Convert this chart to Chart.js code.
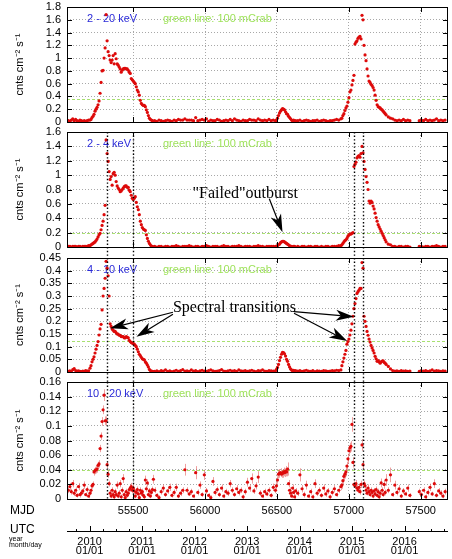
<!DOCTYPE html>
<html>
<head>
<meta charset="utf-8">
<script src="https://cdn.jsdelivr.net/npm/chart.js@4.4.1/dist/chart.umd.min.js"></script>
<style>
  body { margin: 0; background: #fff; width: 452px; height: 559px; position: relative; overflow: hidden; }
  canvas { position: absolute; left: 0; }
</style>
</head>
<body>
<script>
// MAXI light curve, one time grid shared by the four energy bands
var mjd = [
  // before the 2010 outburst
  55050,55060,55070,55080,55090,55100,55110,55120,55130,55140,55150,55160,55170,55180,55190,
  // 2010 outburst
  55200,55207,55214,55221,55228,55235,55242,55249,55256,55263,55270,55277,55284,55291,55298,55305,
  55312,55319,55326,55333,55340,55347,55354,55361,55368,55375,55382,55389,55396,55403,55410,55417,
  55424,55431,55438,55445,55452,55459,55466,55473,55480,55487,55494,55501,55508,55515,55522,55529,
  55536,55543,55550,55557,55564,55571,55578,55585,55592,55599,55606,55613,55620,55627,55634,55641,
  // quiescence
  55650,55665,55680,55695,55710,55725,55740,55755,55770,55785,55800,55815,55830,55845,55860,55875,
  55890,55905,55920,55935,55950,55965,55980,55995,56010,56025,56040,56055,56070,56085,56100,56115,
  56130,56145,56160,56175,56190,56205,56220,56235,56250,56265,56280,56295,56310,56325,56340,56355,
  56370,56385,56400,56415,56430,56445,56460,56475,
  // "failed" outburst
  56490,56497,56504,56511,56518,56525,56532,56539,56546,56553,56560,56567,56574,56581,56588,56595,
  56602,56609,56616,56623,56630,
  // quiescence
  56645,56660,56675,56690,56705,56720,56735,56750,56765,56780,56795,56810,56825,56840,56855,56870,
  56885,56900,56915,56930,56945,
  // 2014-2015 outburst
  56952,56959,56966,56973,56980,56987,56994,57001,57008,57015,57022,57029,57036,57043,57050,57057,
  57064,57071,57078,57085,57092,57099,57106,57113,57120,57127,57134,57141,57148,57155,57162,57169,
  57176,57183,57190,57197,57204,57211,57218,57225,57232,57239,57246,57253,57260,
  // decay and quiescence
  57275,57290,57305,57320,57335,57350,57365,57380,57395,57410,57425,
  57490,57505,57520,57535,57550,57565,57580,57595,57610,57625,57640,57655,57670
];

var rate2to20 = [
  0.02,0.01,0.03,0.05,0.02,0.04,0.02,0.01,0.03,0.02,0.01,0.02,0.01,0.02,0.03,
  0.03,0.04,0.07,0.09,0.12,0.17,0.20,0.23,0.27,0.33,0.45,0.62,0.80,0.81,1.00,1.16,
  1.68,1.27,1.10,1.04,0.97,0.93,0.97,1.04,0.91,1.07,0.99,0.91,0.89,0.86,0.83,0.78,
  0.81,0.83,0.84,0.84,0.83,0.83,0.81,0.78,0.76,0.68,0.66,0.64,0.62,0.60,0.55,0.50,
  0.47,0.42,0.34,0.29,0.27,0.26,0.26,0.24,0.19,0.15,0.10,0.06,0.04,0.03,0.02,0.01,
  0.02,0.01,0.03,0.02,0.01,0.02,0.03,0.02,0.01,0.03,0.02,0.04,0.03,0.03,0.05,0.03,
  0.03,0.03,0.02,0.07,0.02,0.03,0.04,0.03,0.05,0.01,0.03,0.02,0.02,0.04,0.03,0.01,
  0.02,0.03,0.02,0.04,0.02,0.05,0.03,0.02,0.01,0.03,0.02,0.02,0.04,0.03,0.03,0.02,
  0.05,0.03,0.02,0.03,0.02,0.04,0.02,0.03,
  0.02,0.03,0.06,0.10,0.14,0.17,0.19,0.21,0.20,0.19,0.16,0.13,0.12,0.09,0.07,0.05,
  0.03,0.02,0.03,0.01,0.02,
  0.02,0.03,0.01,0.02,0.03,0.02,0.01,0.02,0.02,0.03,0.01,0.02,0.03,0.02,0.01,0.02,
  0.02,0.03,0.04,0.03,0.05,
  0.06,0.10,0.13,0.18,0.22,0.25,0.31,0.38,0.47,0.50,0.58,0.65,0.73,1.22,1.25,1.27,
  1.31,1.33,1.34,1.30,1.67,1.60,1.20,1.05,0.96,0.83,0.72,0.64,0.62,0.59,0.57,0.54,
  0.50,0.42,0.34,0.27,0.24,0.23,0.22,0.20,0.19,0.17,0.15,0.13,0.11,
  0.08,0.06,0.05,0.03,0.02,0.03,0.02,0.04,0.02,0.03,0.02,
  0.02,0.03,0.02,0.04,0.02,0.03,0.02,0.03,0.05,0.02,0.03,0.02,0.03
];

var rate2to4 = [
  0.01,0.01,0.00,0.01,0.01,0.01,0.00,0.01,0.01,0.00,0.01,0.01,0.01,0.01,0.02,
  0.02,0.03,0.04,0.05,0.06,0.07,0.09,0.11,0.14,0.17,0.19,0.24,0.30,0.36,0.45,0.58,
  1.49,1.30,1.19,1.05,0.94,0.98,0.86,1.02,1.04,1.00,0.91,0.85,0.82,0.80,0.77,0.78,
  0.80,0.82,0.84,0.85,0.85,0.83,0.83,0.79,0.77,0.72,0.68,0.66,0.68,0.70,0.62,0.56,
  0.52,0.45,0.36,0.31,0.27,0.25,0.24,0.23,0.17,0.12,0.08,0.05,0.03,0.01,0.01,0.00,
  0.01,0.00,0.01,0.01,0.00,0.01,0.01,0.00,0.01,0.01,0.02,0.01,0.00,0.01,0.01,0.01,
  0.02,0.01,0.00,0.01,0.01,0.00,0.01,0.01,0.02,0.01,0.00,0.01,0.01,0.01,0.00,0.01,
  0.02,0.01,0.01,0.00,0.01,0.01,0.01,0.02,0.01,0.00,0.01,0.01,0.01,0.00,0.01,0.01,
  0.02,0.01,0.01,0.00,0.01,0.01,0.01,0.01,
  0.01,0.01,0.02,0.03,0.04,0.06,0.07,0.08,0.08,0.07,0.06,0.05,0.04,0.03,0.02,0.01,
  0.01,0.00,0.01,0.01,0.00,
  0.01,0.00,0.01,0.01,0.00,0.01,0.01,0.00,0.01,0.01,0.00,0.01,0.00,0.01,0.01,0.00,
  0.01,0.01,0.01,0.02,0.02,
  0.03,0.05,0.07,0.09,0.10,0.12,0.15,0.17,0.18,0.18,0.19,0.20,1.12,1.15,1.18,1.24,
  1.26,1.27,1.25,1.30,1.40,1.31,1.19,1.08,0.98,0.90,0.80,0.64,0.61,0.64,0.62,0.57,
  0.53,0.47,0.41,0.36,0.31,0.28,0.25,0.22,0.19,0.16,0.13,0.10,0.07,
  0.04,0.03,0.01,0.01,0.00,0.01,0.01,0.00,0.01,0.01,0.00,
  0.01,0.01,0.00,0.01,0.01,0.00,0.01,0.01,0.02,0.01,0.00,0.01,0.01
];

var rate4to10 = [
  0.003,0.005,0.002,0.009,0.013,0.006,0.004,0.005,0.003,0.002,0.004,0.003,0.006,0.004,0.005,
  0.015,0.025,0.04,0.05,0.06,0.075,0.09,0.105,0.12,0.146,0.17,0.188,0.245,0.30,0.33,0.37,
  0.437,0.41,0.38,0.30,0.19,0.18,0.17,0.165,0.16,0.16,0.155,0.15,0.15,0.145,0.145,0.14,
  0.14,0.14,0.135,0.135,0.14,0.137,0.135,0.125,0.12,0.116,0.114,0.112,0.11,0.105,0.10,0.09,
  0.08,0.07,0.065,0.058,0.052,0.05,0.048,0.04,0.035,0.028,0.02,0.01,0.006,0.004,0.003,0.002,
  0.003,0.005,0.002,0.006,0.004,0.008,0.003,0.005,0.002,0.004,0.007,0.003,0.006,0.009,0.004,0.005,
  0.003,0.008,0.004,0.006,0.002,0.005,0.007,0.004,0.003,0.006,0.008,0.005,0.003,0.004,0.006,0.009,
  0.004,0.003,0.005,0.007,0.004,0.006,0.003,0.008,0.005,0.004,0.006,0.003,0.005,0.007,0.004,0.002,
  0.006,0.005,0.008,0.004,0.003,0.006,0.005,0.004,
  0.005,0.01,0.018,0.03,0.045,0.058,0.07,0.078,0.077,0.072,0.063,0.05,0.042,0.03,0.02,0.012,
  0.008,0.005,0.007,0.004,0.006,
  0.004,0.006,0.003,0.005,0.007,0.004,0.003,0.006,0.002,0.005,0.004,0.003,0.006,0.005,0.003,0.004,
  0.006,0.005,0.007,0.006,0.008,
  0.025,0.04,0.055,0.07,0.085,0.11,0.12,0.13,0.146,0.165,0.19,0.22,0.25,0.27,0.29,0.31,
  0.317,0.323,0.33,0.33,0.432,0.41,0.22,0.20,0.18,0.16,0.145,0.13,0.118,0.105,0.095,0.085,
  0.075,0.062,0.052,0.042,0.045,0.04,0.035,0.04,0.043,0.044,0.038,0.035,0.03,
  0.022,0.012,0.006,0.004,0.005,0.003,0.006,0.004,0.005,0.003,0.004,
  0.003,0.005,0.004,0.006,0.003,0.005,0.008,0.004,0.006,0.005,0.003,0.005,0.004
];

var rate10to20 = [
  0.012,0.017,0.010,0.021,0.008,0.012,0.005,0.017,0.006,0.008,0.011,0.019,0.006,0.013,0.004,
  0.008,0.012,0.018,0.020,0.037,0.039,0.040,0.041,0.046,0.048,0.069,0.086,0.106,0.122,0.142,0.107,
  0.107,0.047,0.034,0.021,0.008,0.004,0.012,0.006,0.003,0.010,0.006,0.019,0.004,0.008,0.021,0.003,
  0.012,0.028,0.006,0.002,0.010,0.005,0.008,0.013,0.015,0.017,0.012,0.015,0.011,0.004,0.009,0.013,
  0.007,0.002,0.012,0.008,0.010,0.005,0.003,0.026,0.014,0.022,0.006,0.011,0.004,0.009,0.013,0.027,
  0.012,0.005,0.002,0.010,0.015,0.006,0.011,0.016,0.005,0.009,0.016,0.004,0.008,0.012,0.040,0.012,
  0.007,0.010,0.004,0.036,0.009,0.019,0.006,0.033,0.011,0.005,0.002,0.024,0.009,0.013,0.006,0.015,
  0.004,0.010,0.008,0.021,0.012,0.006,0.014,0.009,0.012,0.003,0.010,0.023,0.015,0.028,0.011,0.018,
  0.030,0.008,0.004,0.010,0.007,0.012,0.005,0.016,
  0.012,0.018,0.026,0.034,0.035,0.036,0.034,0.035,0.037,0.036,0.038,0.037,0.041,0.021,0.012,0.008,
  0.004,0.015,0.009,0.003,0.011,
  0.008,0.033,0.014,0.006,0.019,0.004,0.010,0.003,0.021,0.008,0.012,0.005,0.015,0.007,0.011,0.003,
  0.009,0.014,0.006,0.012,0.017,
  0.019,0.025,0.031,0.034,0.037,0.045,0.055,0.066,0.070,0.072,0.102,0.050,0.020,0.018,0.021,0.015,
  0.012,0.016,0.010,0.020,0.074,0.047,0.021,0.018,0.012,0.008,0.015,0.010,0.006,0.012,0.009,0.004,
  0.011,0.007,0.013,0.005,0.010,0.003,0.008,0.022,0.012,0.006,0.020,0.009,0.026,
  0.012,0.033,0.006,0.019,0.009,0.014,0.004,0.011,0.007,0.015,0.005,
  0.010,0.006,0.012,0.003,0.009,0.016,0.007,0.021,0.005,0.011,0.008,0.004,0.010
];

// 1-sigma errors of the 10-20 keV band (the only band where they show)
var err10to20 = [
  0.004,0.005,0.004,0.005,0.004,0.004,0.003,0.005,0.004,0.004,0.004,0.005,0.003,0.004,0.003,
  0.003,0.004,0.004,0.004,0.005,0.005,0.005,0.005,0.005,0.005,0.005,0.005,0.006,0.006,0.008,0.006,
  0.006,0.005,0.005,0.004,0.004,0.003,0.004,0.004,0.003,0.004,0.003,0.005,0.003,0.004,0.005,0.003,
  0.004,0.006,0.004,0.003,0.004,0.003,0.004,0.004,0.005,0.005,0.004,0.005,0.004,0.003,0.004,0.004,
  0.004,0.003,0.004,0.004,0.004,0.003,0.003,0.006,0.004,0.005,0.003,0.004,0.003,0.004,0.004,0.006,
  0.004,0.003,0.003,0.004,0.005,0.003,0.004,0.005,0.003,0.004,0.005,0.003,0.004,0.004,0.008,0.004,
  0.003,0.004,0.003,0.009,0.004,0.005,0.003,0.007,0.004,0.003,0.003,0.006,0.004,0.004,0.003,0.005,
  0.003,0.004,0.004,0.005,0.004,0.003,0.005,0.004,0.004,0.003,0.004,0.006,0.005,0.007,0.004,0.005,
  0.008,0.004,0.003,0.004,0.003,0.004,0.003,0.005,
  0.004,0.005,0.005,0.006,0.006,0.006,0.005,0.006,0.006,0.006,0.007,0.006,0.009,0.005,0.004,0.004,
  0.003,0.005,0.004,0.003,0.004,
  0.004,0.009,0.005,0.004,0.006,0.003,0.004,0.003,0.006,0.004,0.004,0.003,0.005,0.004,0.004,0.003,
  0.004,0.005,0.003,0.004,0.005,
  0.005,0.005,0.006,0.006,0.006,0.006,0.007,0.007,0.007,0.007,0.010,0.007,0.004,0.004,0.005,0.004,
  0.004,0.004,0.004,0.005,0.008,0.006,0.004,0.004,0.004,0.003,0.005,0.004,0.003,0.004,0.004,0.003,
  0.004,0.003,0.004,0.003,0.004,0.003,0.004,0.006,0.004,0.003,0.006,0.004,0.008,
  0.004,0.010,0.003,0.006,0.004,0.005,0.003,0.004,0.003,0.005,0.003,
  0.004,0.003,0.004,0.003,0.004,0.005,0.003,0.006,0.003,0.004,0.004,0.003,0.004
];

var bandLabels = ['2 - 20 keV', '2 - 4 keV', '4 - 10 keV', '10 - 20 keV'];
var crabLevel = [0.36, 0.2, 0.124, 0.04];    // 100 mCrab in each band
var yMax = [1.8, 1.6, 0.45, 0.16];
var yStep = [0.2, 0.2, 0.05, 0.02];
var transitionMjd = [55315, 55502, 57035, 57097];
var mjdTicks = [55500, 56000, 56500, 57000, 57500];
var yearStart = [55197, 55562, 55927, 56293, 56658, 57023, 57388];
var yearLabels = ['2010', '2011', '2012', '2013', '2014', '2015', '2016'];

var failedNote = { panel: 1, text: '"Failed"outburst', at: [55913, 0.74],
  arrows: [[56447, 0.67, 56539, 0.205]] };
var spectralNote = { panel: 2, text: 'Spectral transitions', at: [55777, 0.254],
  arrows: [[55777, 0.236, 55339, 0.1725], [55777, 0.228, 55523, 0.139],
           [56619, 0.238, 57035, 0.218], [56619, 0.232, 56989, 0.122]] };

var rates = [rate2to20, rate2to4, rate4to10, rate10to20];

// page layout
var W = 452, H = 559;
var plotLeft = 67, plotRight = 450;
var panelTop = [7, 132, 258, 382];
var panelBottom = [122, 247, 372, 499];
var mjdLabelBand = 20;   // room under the last panel for the MJD numbers
var SANS = '"Liberation Sans", Arial, Helvetica, sans-serif';
var SERIF = '"Liberation Serif", "Times New Roman", serif';

function drawArrow(ctx, x0, y0, x1, y1) {
  var a = Math.atan2(y1 - y0, x1 - x0), c = Math.cos(a), s = Math.sin(a);
  var len = 18, half = 5.5, notch = 13;
  ctx.beginPath();
  ctx.moveTo(x0, y0);
  ctx.lineTo(x1 - c * notch, y1 - s * notch);
  ctx.stroke();
  ctx.beginPath();
  ctx.moveTo(x1, y1);
  ctx.lineTo(x1 - c * len + s * half, y1 - s * len - c * half);
  ctx.lineTo(x1 - c * notch, y1 - s * notch);
  ctx.lineTo(x1 - c * len - s * half, y1 - s * len + c * half);
  ctx.closePath();
  ctx.fill();
}

function drawNote(chart, note) {
  var ctx = chart.ctx, x = chart.scales.x, y = chart.scales.y;
  ctx.save();
  ctx.fillStyle = '#000';
  ctx.strokeStyle = '#000';
  ctx.lineWidth = 1.2;
  ctx.font = '16px ' + SERIF;
  ctx.textBaseline = 'middle';
  ctx.textAlign = 'left';
  ctx.fillText(note.text, x.getPixelForValue(note.at[0]), y.getPixelForValue(note.at[1]));
  note.arrows.forEach(function (a) {
    drawArrow(ctx, x.getPixelForValue(a[0]), y.getPixelForValue(a[1]),
              x.getPixelForValue(a[2]), y.getPixelForValue(a[3]));
  });
  ctx.restore();
}

function makePanel(i) {
  var cTop = panelTop[i] - 14;
  var cBottom = i < 3 ? panelBottom[i] + 14 : H;
  var xHeight = i === 3 ? mjdLabelBand : 0;
  var canvas = document.createElement('canvas');
  canvas.width = W;
  canvas.height = cBottom - cTop;
  canvas.style.top = cTop + 'px';
  document.body.appendChild(canvas);

  var points = mjd.map(function (t, j) { return { x: t, y: rates[i][j] }; });

  var decor = {
    id: 'decor' + i,
    beforeDatasetsDraw: function (chart) {
      var ctx = chart.ctx, a = chart.chartArea, x = chart.scales.x, y = chart.scales.y;
      ctx.save();
      // 100 mCrab level
      ctx.strokeStyle = '#a8e070';
      ctx.lineWidth = 1;
      ctx.setLineDash([3, 2]);
      var gy = Math.round(y.getPixelForValue(crabLevel[i])) + 0.5;
      ctx.beginPath(); ctx.moveTo(a.left, gy); ctx.lineTo(a.right, gy); ctx.stroke();
      ctx.setLineDash([]);

      // band and reference labels, under the points
      ctx.font = '11px ' + SANS;
      ctx.textBaseline = 'middle';
      ctx.textAlign = 'left';
      ctx.fillStyle = '#2a2ad8';
      ctx.fillText(bandLabels[i], 87, a.top + 12);
      ctx.fillStyle = '#9ee25a';
      ctx.fillText('green line: 100 mCrab', 163, a.top + 12);

      // error bars
      if (i === 3) {
        ctx.strokeStyle = 'rgba(226,80,80,0.55)';
        mjd.forEach(function (t, j) {
          var px = Math.round(x.getPixelForValue(t)) + 0.5;
          ctx.beginPath();
          ctx.moveTo(px, y.getPixelForValue(Math.max(0, rate10to20[j] - err10to20[j])));
          ctx.lineTo(px, y.getPixelForValue(rate10to20[j] + err10to20[j]));
          ctx.stroke();
        });
      }
      ctx.restore();
    },
    afterDraw: function (chart) {
      var ctx = chart.ctx, a = chart.chartArea, x = chart.scales.x, y = chart.scales.y;
      ctx.save();
      // frame and inward ticks
      ctx.strokeStyle = '#000';
      ctx.lineWidth = 1;
      ctx.strokeRect(a.left + 0.5, a.top + 0.5, a.right - a.left - 1, a.bottom - a.top);
      ctx.beginPath();
      y.ticks.forEach(function (t) {
        var py = Math.round(y.getPixelForValue(t.value)) + 0.5;
        ctx.moveTo(a.left, py); ctx.lineTo(a.left + 5, py);
        ctx.moveTo(a.right - 5, py); ctx.lineTo(a.right, py);
      });
      mjdTicks.forEach(function (t) {
        var px = Math.round(x.getPixelForValue(t)) + 0.5;
        ctx.moveTo(px, a.top); ctx.lineTo(px, a.top + 5);
        ctx.moveTo(px, a.bottom); ctx.lineTo(px, a.bottom - 5);
      });
      ctx.stroke();

      // state transition markers run from panel 2 down through panel 4
      if (i > 0) {
        var yEnd = i < 3 ? a.bottom + (panelTop[i + 1] - panelBottom[i]) : a.bottom;
        ctx.strokeStyle = '#000';
        ctx.lineWidth = 1.4;
        ctx.setLineDash([1.4, 2.2]);
        transitionMjd.forEach(function (t) {
          var px = Math.round(x.getPixelForValue(t)) + 0.5;
          ctx.beginPath(); ctx.moveTo(px, a.top); ctx.lineTo(px, yEnd); ctx.stroke();
        });
        ctx.setLineDash([]);
      }
      ctx.restore();

      if (i === failedNote.panel) drawNote(chart, failedNote);
      if (i === spectralNote.panel) drawNote(chart, spectralNote);

      if (i === 3) {
        // left captions and the calendar axis (page y minus canvas offset)
        var oy = -cTop;
        ctx.save();
        ctx.fillStyle = '#000';
        ctx.textBaseline = 'middle';
        ctx.textAlign = 'left';
        ctx.font = '12px ' + SANS;
        ctx.fillText('MJD', 10, 511 + oy);
        ctx.fillText('UTC', 10, 530 + oy);
        ctx.font = '7px ' + SANS;
        ctx.fillText('year', 9, 539 + oy);
        ctx.fillText('month/day', 9, 545.5 + oy);
        ctx.strokeStyle = '#000';
        ctx.lineWidth = 1;
        ctx.beginPath();
        ctx.moveTo(a.left, 531.5 + oy); ctx.lineTo(a.right, 531.5 + oy);
        yearStart.forEach(function (t) {
          var px = Math.round(x.getPixelForValue(t)) + 0.5;
          ctx.moveTo(px, 531 + oy); ctx.lineTo(px, 526 + oy);
          for (var q = -3; q <= 3; q++) {
            if (q === 0) continue;
            var tq = t + q * 91.31;
            if (tq < x.min || tq > x.max || (q < 0 && t !== yearStart[0])) continue;
            var pq = Math.round(x.getPixelForValue(tq)) + 0.5;
            ctx.moveTo(pq, 531 + oy); ctx.lineTo(pq, 529 + oy);
          }
        });
        ctx.stroke();
        ctx.font = '11px ' + SANS;
        ctx.textAlign = 'center';
        yearStart.forEach(function (t, k) {
          var px = x.getPixelForValue(t);
          ctx.fillText(yearLabels[k], px, 542 + oy);
          ctx.fillText('01/01', px, 551 + oy);
        });
        ctx.restore();
      }
    }
  };

  return new Chart(canvas, {
    type: 'scatter',
    data: {
      datasets: [{
        label: bandLabels[i],
        data: points,
        pointRadius: 1.6,
        pointBorderWidth: 0,
        pointBackgroundColor: '#dd0a0a',
        backgroundColor: '#dd0a0a'
      }]
    },
    options: {
      responsive: false,
      animation: false,
      events: [],
      layout: {
        padding: { top: panelTop[i] - cTop, bottom: cBottom - panelBottom[i] - xHeight, left: 0, right: W - plotRight }
      },
      plugins: { legend: { display: false }, tooltip: { enabled: false } },
      scales: {
        x: {
          type: 'linear',
          min: 55040,
          max: 57690,
          afterBuildTicks: function (s) { s.ticks = mjdTicks.map(function (v) { return { value: v }; }); },
          afterFit: function (s) { s.height = xHeight; },
          grid: { color: '#a8a8a8', lineWidth: 1, drawTicks: false },
          border: { display: false, dash: [1, 2] },
          ticks: {
            display: i === 3,
            padding: 5,
            maxRotation: 0,
            autoSkip: false,
            color: '#000',
            font: { family: SANS, size: 11 },
            callback: function (v) { return String(v); }
          }
        },
        y: {
          min: 0,
          max: yMax[i],
          afterBuildTicks: function (s) {
            var n = Math.round(yMax[i] / yStep[i]), t = [];
            for (var k = 0; k <= n; k++) t.push({ value: +(k * yStep[i]).toFixed(4) });
            s.ticks = t;
          },
          afterFit: function (s) { s.width = plotLeft; },
          grid: { color: '#a8a8a8', lineWidth: 1, drawTicks: false },
          border: { display: false, dash: [1, 2] },
          ticks: {
            autoSkip: false,
            padding: 6,
            color: '#000',
            font: { family: SANS, size: 11 },
            callback: function (v) { return String(+(+v).toFixed(3)); }
          },
          title: {
            display: true,
            text: 'cnts cm\u207B\u00B2 s\u207B\u00B9',
            color: '#000',
            font: { family: SANS, size: 11 },
            padding: { top: 13, bottom: 0 }
          }
        }
      }
    },
    plugins: [decor]
  });
}

for (var i = 0; i < 4; i++) makePanel(i);
</script>
</body>
</html>
